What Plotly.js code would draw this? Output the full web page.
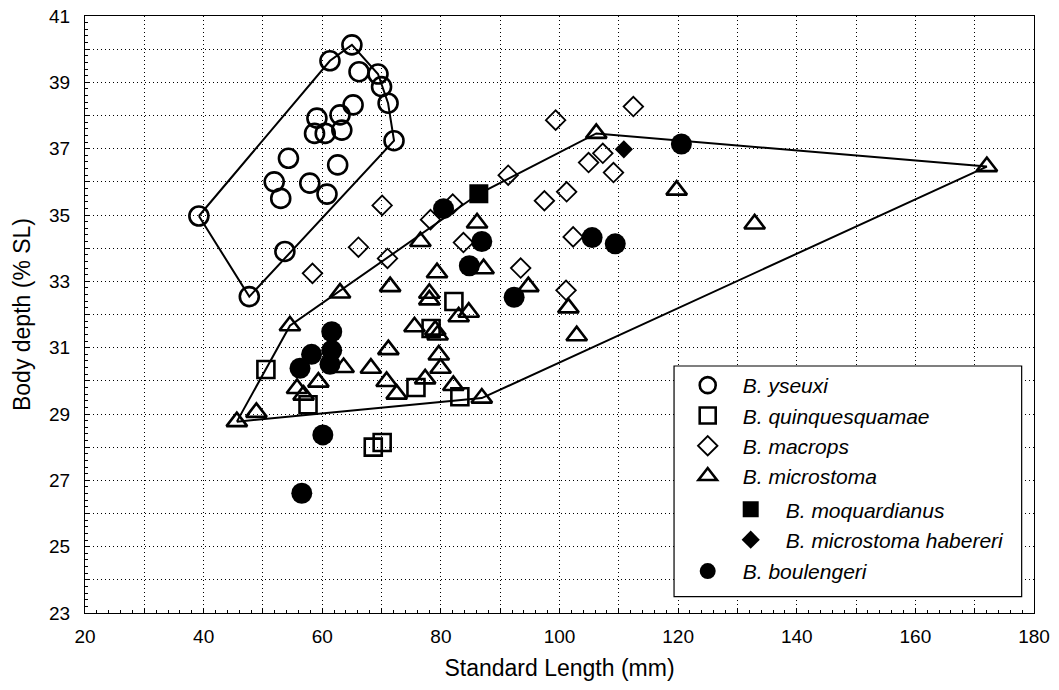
<!DOCTYPE html>
<html>
<head>
<meta charset="utf-8">
<script src="https://cdn.plot.ly/plotly-3.0.1.min.js"></script>
<style>html,body{margin:0;padding:0;background:#fff;}#chart{width:1059px;height:690px;}</style>
</head>
<body>
<div id="chart"></div>
<script>
// ---- Data (Standard Length mm, Body depth % SL) ----
var yseuxiX = [65.0, 61.3, 66.2, 69.4, 70.0, 71.1, 65.2, 63.0, 59.1, 58.7, 60.5, 63.3, 72.1, 54.3, 62.6, 51.9, 57.9, 53.0, 60.8, 39.2, 53.7, 47.7];
var yseuxiY = [40.13, 39.65, 39.32, 39.25, 38.87, 38.37, 38.32, 38.02, 37.92, 37.46, 37.46, 37.56, 37.24, 36.71, 36.51, 36.00, 35.96, 35.50, 35.63, 34.97, 33.90, 32.54];

var quinqX = [50.5, 57.6, 75.8, 83.2, 82.2, 78.35, 70.1, 68.6];
var quinqY = [30.34, 29.28, 29.80, 29.52, 32.39, 31.58, 28.14, 28.00];

var macropsX = [70.1, 66.1, 71.0, 58.35, 78.25, 82.0, 83.8, 91.35, 99.35, 112.45, 104.9, 107.3, 109.1, 101.2, 97.45, 102.3, 93.45, 101.1];
var macropsY = [35.29, 34.03, 33.69, 33.24, 34.86, 35.33, 34.17, 36.20, 37.86, 38.27, 36.58, 36.86, 36.28, 35.70, 35.43, 34.34, 33.40, 32.73];

var microX = [45.6, 48.9, 54.55, 63.0, 71.45, 76.55, 79.35, 78.05, 78.05, 86.1, 87.2, 83.0, 84.7, 75.55, 79.05, 79.45, 71.15, 79.65, 79.95, 77.35, 70.85, 72.55, 68.2, 63.6, 55.75, 56.85, 59.35, 82.1, 86.9, 94.75, 101.5, 102.9, 106.2, 119.75, 132.9, 172.05];
var microY = [28.77, 29.05, 31.66, 32.65, 32.84, 34.20, 33.26, 32.64, 32.44, 34.76, 33.38, 31.93, 32.07, 31.63, 31.53, 31.38, 30.94, 30.78, 30.38, 30.06, 29.98, 29.60, 30.38, 30.40, 29.77, 29.57, 29.96, 29.86, 29.48, 32.84, 32.20, 31.36, 37.46, 35.75, 34.73, 36.46];

var moqX = [86.4];
var moqY = [35.64];

var haberX = [110.85];
var haberY = [36.98];

var boulX = [61.6, 61.6, 61.3, 58.2, 56.25, 60.1, 56.55, 80.45, 86.9, 84.8, 92.35, 105.5, 109.4, 120.55];
var boulY = [31.48, 30.92, 30.50, 30.80, 30.38, 28.37, 26.61, 35.19, 34.20, 33.47, 32.52, 34.32, 34.13, 37.14];

var xTicks = [20, 30, 40, 50, 60, 70, 80, 90, 100, 110, 120, 130, 140, 150, 160, 170, 180];
var xTickText = ['20', '', '40', '', '60', '', '80', '', '100', '', '120', '', '140', '', '160', '', '180'];
var yTicks = [23, 24, 25, 26, 27, 28, 29, 30, 31, 32, 33, 34, 35, 36, 37, 38, 39, 40, 41];
var yTickText = ['23', '', '25', '', '27', '', '29', '', '31', '', '33', '', '35', '', '37', '', '39', '', '41'];

// ---- Convex hull (monotone chain) ----
function hull(xs, ys) {
  var p = xs.map(function (x, i) { return [x, ys[i]]; });
  p.sort(function (a, b) { return a[0] - b[0] || a[1] - b[1]; });
  function cross(o, a, b) { return (a[0] - o[0]) * (b[1] - o[1]) - (a[1] - o[1]) * (b[0] - o[0]); }
  var lower = [], upper = [];
  p.forEach(function (pt) {
    while (lower.length >= 2 && cross(lower[lower.length - 2], lower[lower.length - 1], pt) <= 0) lower.pop();
    lower.push(pt);
  });
  for (var i = p.length - 1; i >= 0; i--) {
    var pt = p[i];
    while (upper.length >= 2 && cross(upper[upper.length - 2], upper[upper.length - 1], pt) <= 0) upper.pop();
    upper.push(pt);
  }
  upper.pop(); lower.pop();
  var h = lower.concat(upper);
  h.push(h[0]);
  return { x: h.map(function (q) { return q[0]; }), y: h.map(function (q) { return q[1]; }) };
}

var hY = hull(yseuxiX, yseuxiY);
var hM = hull(microX.concat(moqX, haberX), microY.concat(moqY, haberY));

var FONT = 'Liberation Sans, Arial, Helvetica, sans-serif';
var LFONT = { family: FONT, size: 21, color: '#000', style: 'italic' };

var traces = [
  { x: hY.x, y: hY.y, mode: 'lines', line: { color: '#000', width: 2 }, showlegend: false, hoverinfo: 'skip' },
  { x: hM.x, y: hM.y, mode: 'lines', line: { color: '#000', width: 2 }, showlegend: false, hoverinfo: 'skip' },
  { x: yseuxiX, y: yseuxiY, mode: 'markers', name: 'B. yseuxi', legend: 'legend',
    marker: { symbol: 'circle-open', size: 19, color: '#000', line: { width: 2.6, color: '#000' } } },
  { x: quinqX, y: quinqY, mode: 'markers', name: 'B. quinquesquamae', legend: 'legend',
    marker: { symbol: 'square-open', size: 17, color: '#000', line: { width: 2.6, color: '#000' } } },
  { x: macropsX, y: macropsY, mode: 'markers', name: 'B. macrops', legend: 'legend',
    marker: { symbol: 'diamond-open', size: 15, color: '#000', line: { width: 1.8, color: '#000' } } },
  { x: microX, y: microY, mode: 'markers', name: 'B. microstoma', legend: 'legend',
    marker: { symbol: 'triangle-up-open', size: 18, color: '#000', line: { width: 2.6, color: '#000' } } },
  { x: moqX, y: moqY, mode: 'markers', name: 'B. moquardianus', legend: 'legend2',
    marker: { symbol: 'square', size: 19, color: '#000', line: { width: 0 } } },
  { x: haberX, y: haberY, mode: 'markers', name: 'B. microstoma habereri', legend: 'legend2',
    marker: { symbol: 'diamond', size: 14, color: '#000', line: { width: 0 } } },
  { x: boulX, y: boulY, mode: 'markers', name: 'B. boulengeri', legend: 'legend3',
    marker: { symbol: 'circle', size: 21, color: '#000', line: { width: 0 } } }
];

function leg(x, y) {
  return { x: x, y: y, xanchor: 'left', yanchor: 'top', xref: 'paper', yref: 'paper',
    bgcolor: 'rgba(0,0,0,0)', borderwidth: 0, font: LFONT, itemwidth: 60, tracegroupgap: 0 };
}

var layout = {
  width: 1059, height: 690,
  margin: { l: 85, r: 25, t: 16, b: 77 },
  paper_bgcolor: '#fff', plot_bgcolor: '#fff',
  font: { family: FONT, color: '#000' },
  xaxis: {
    range: [20, 180], tickmode: 'array', tickvals: xTicks, ticktext: xTickText,
    showgrid: true, gridcolor: '#000', gridwidth: 1, griddash: '1px,3px',
    ticks: 'inside', ticklen: 5, tickcolor: '#000', tickwidth: 1,
    minor: { dtick: 2, ticks: 'inside', ticklen: 3, tickcolor: '#000', showgrid: false },
    showline: true, linecolor: '#000', linewidth: 1, mirror: true, zeroline: false,
    tickfont: { family: FONT, size: 19, color: '#000' }, ticklabelstandoff: 6,
    title: { text: 'Standard Length (mm)', font: { family: FONT, size: 23, color: '#000' }, standoff: 14 }
  },
  yaxis: {
    range: [23, 41], tickmode: 'array', tickvals: yTicks, ticktext: yTickText,
    showgrid: true, gridcolor: '#000', gridwidth: 1, griddash: '1px,3px',
    ticks: 'inside', ticklen: 5, tickcolor: '#000', tickwidth: 1,
    minor: { dtick: 0.2, ticks: 'inside', ticklen: 3, tickcolor: '#000', showgrid: false },
    showline: true, linecolor: '#000', linewidth: 1, mirror: true, zeroline: false,
    tickfont: { family: FONT, size: 19, color: '#000' }, ticklabelstandoff: 10,
    title: { text: 'Body depth (% SL)', font: { family: FONT, size: 23, color: '#000' }, standoff: 12 }
  },
  showlegend: true,
  legend: leg(0.6193, 0.4154),
  legend2: leg(0.6646, 0.2074),
  legend3: leg(0.6193, 0.1039),
  shapes: [
    { type: 'rect', xref: 'paper', yref: 'paper', x0: 0.6207, x1: 0.987, y0: 0.0273, y1: 0.4137,
      line: { color: '#000', width: 1.2 }, fillcolor: '#fff', layer: 'above' }
  ]
};

Plotly.newPlot('chart', traces, layout, { displayModeBar: false, staticPlot: true });
</script>
</body>
</html>
